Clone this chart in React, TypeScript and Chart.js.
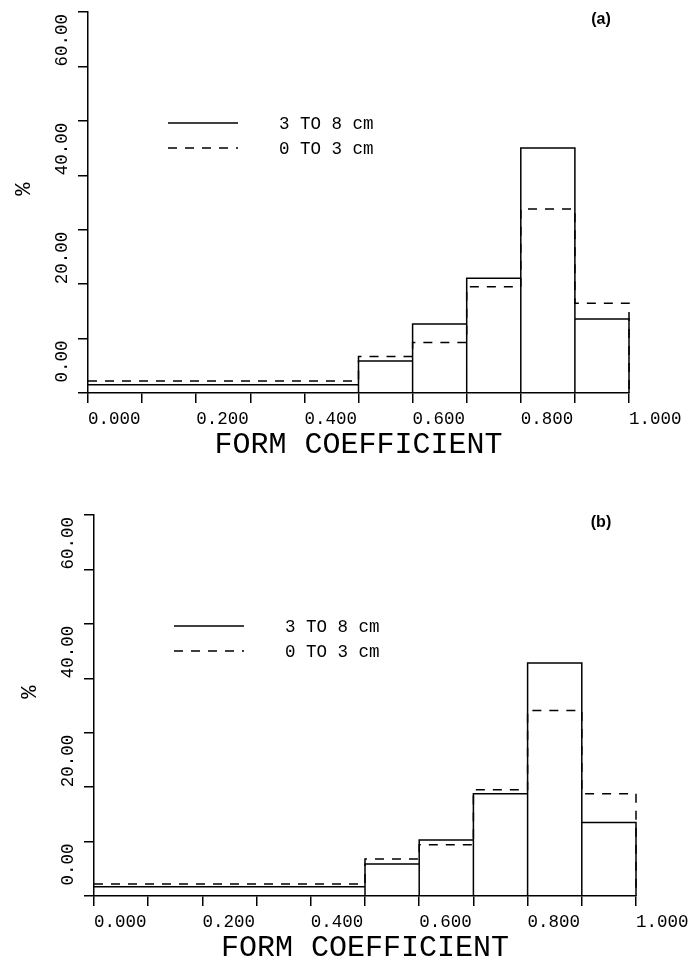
import React, { useEffect, useRef } from "react";
import { Chart, registerables } from "chart.js";

Chart.register(...registerables);

// ---- data ----
const binEdges = [0, 0.5, 0.6, 0.7, 0.8, 0.9, 1.0];
const seriesLabels = ["3 TO 8 cm", "0 TO 3 cm"];
const panelA_3to8 = [1.5, 5.9, 12.7, 21.1, 45.0, 13.6];
const panelA_0to3 = [2.2, 6.7, 9.3, 19.5, 33.8, 16.5];
const panelB_3to8 = [1.7, 5.9, 10.3, 18.8, 42.8, 13.5];
const panelB_0to3 = [2.2, 6.8, 9.4, 19.5, 34.1, 18.8];
const yLabelValues = [0, 20, 40, 60];
const panelTags = ["(a)", "(b)"];
const xTitle = "FORM COEFFICIENT";
const yTitle = "%";

const MONO = "'Liberation Mono', 'DejaVu Sans Mono', monospace";
const INK = "#000";
const CANVAS_W = 692;
const CANVAS_H = 484;

type Geo = { top: number; axisX: number; rightX: number; topY: number; bottomY: number };
const geoA: Geo = { top: 0, axisX: 88, rightX: 629, topY: 12, bottomY: 393 };
const geoB: Geo = { top: 485, axisX: 94, rightX: 636, topY: 30, bottomY: 411 };

// outline of histogram bars (each edge drawn down to the axis)
function outlinePoints(edges: number[], vals: number[]) {
  const pts: { x: number; y: number }[] = [{ x: edges[0], y: vals[0] }];
  for (let i = 0; i < vals.length; i++) {
    const x1 = edges[i + 1];
    pts.push({ x: x1, y: vals[i] });
    pts.push({ x: x1, y: 0 });
    if (i + 1 < vals.length) pts.push({ x: x1, y: vals[i + 1] });
  }
  return pts;
}

// step line (horizontal per bin), closing down at the last edge
function stepPoints(edges: number[], vals: number[]) {
  const pts: { x: number; y: number }[] = [];
  vals.forEach((v, i) => {
    pts.push({ x: edges[i], y: v });
    pts.push({ x: edges[i + 1], y: v });
  });
  pts.push({ x: edges[edges.length - 1], y: 0 });
  return pts;
}

const TICK_FONT = 17.5;
const TITLE_FONT = 30;
const DASH = [9, 8];

function Panel({ geo, solid, dashed, tag }: { geo: Geo; solid: number[]; dashed: number[]; tag: string }) {
  const ref = useRef<HTMLCanvasElement | null>(null);
  useEffect(() => {
    const canvas = ref.current;
    if (!canvas) return;
    const xScaleH = CANVAS_H - geo.bottomY;
    const tickLh = TICK_FONT * 1.2;
    const titleLh = TITLE_FONT * 1.2;

    const decor = {
      id: "decor",
      afterDraw(chart: any) {
        const { ctx, chartArea, scales } = chart;
        const y = scales.y;
        ctx.save();
        ctx.fillStyle = INK;
        ctx.strokeStyle = INK;
        // rotated y tick labels
        ctx.font = `${TICK_FONT}px ${MONO}`;
        yLabelValues.forEach((v) => {
          const py = y.getPixelForValue(v);
          ctx.save();
          ctx.translate(chartArea.left - 26, py);
          ctx.rotate(-Math.PI / 2);
          ctx.textAlign = "left";
          ctx.textBaseline = "middle";
          ctx.fillText(v.toFixed(2).padStart(5, " "), 0, 0);
          ctx.restore();
        });
        // y title
        ctx.save();
        ctx.font = `22px ${MONO}`;
        ctx.translate(chartArea.left - 64, chartArea.top + 0.465 * (chartArea.bottom - chartArea.top));
        ctx.rotate(-Math.PI / 2);
        ctx.textAlign = "center";
        ctx.textBaseline = "middle";
        ctx.fillText(yTitle, 0, 0);
        ctx.restore();
        // legend
        const ds = chart.data.datasets;
        const lx0 = chartArea.left + 80;
        const lx1 = chartArea.left + 150;
        const rows = [chartArea.top + 111, chartArea.top + 136];
        ds.forEach((d: any, i: number) => {
          ctx.save();
          ctx.lineWidth = d.borderWidth;
          ctx.setLineDash(d.borderDash || []);
          ctx.beginPath();
          ctx.moveTo(lx0, rows[i]);
          ctx.lineTo(lx1, rows[i]);
          ctx.stroke();
          ctx.restore();
          ctx.font = `${TICK_FONT}px ${MONO}`;
          ctx.textAlign = "left";
          ctx.textBaseline = "middle";
          ctx.fillText(d.label, chartArea.left + 191, rows[i] + 1);
        });
        // panel tag
        ctx.font = "bold 16px 'Liberation Sans', Arial, sans-serif";
        ctx.textAlign = "center";
        ctx.textBaseline = "middle";
        ctx.fillText(tag, 601, chartArea.top + 8);
        ctx.restore();
      },
    };

    const chart = new Chart(canvas, {
      type: "line",
      data: {
        datasets: [
          {
            label: seriesLabels[0],
            data: outlinePoints(binEdges, solid),
            borderColor: INK,
            borderWidth: 1.5,
            pointRadius: 0,
            tension: 0,
            fill: false,
            clip: false as any,
          },
          {
            label: seriesLabels[1],
            data: stepPoints(binEdges, dashed),
            borderColor: INK,
            borderWidth: 1.5,
            borderDash: DASH,
            pointRadius: 0,
            tension: 0,
            fill: false,
            clip: false as any,
          },
        ],
      },
      options: {
        animation: false,
        responsive: false,
        devicePixelRatio: 1,
        layout: {
          padding: { left: geo.axisX - 30, right: CANVAS_W - geo.rightX, top: geo.topY, bottom: 0 },
        },
        plugins: { legend: { display: false }, tooltip: { enabled: false }, title: { display: false } },
        scales: {
          x: {
            type: "linear",
            min: 0,
            max: 1,
            ticks: {
              stepSize: 0.1,
              autoSkip: false,
              maxRotation: 0,
              minRotation: 0,
              align: "start",
              padding: 26 - 10 - tickLh / 2,
              color: INK,
              font: { family: MONO, size: TICK_FONT },
              callback: (v: any, i: number) => (i % 2 === 0 ? Number(v).toFixed(3) : ""),
            },
            grid: { drawOnChartArea: false, drawTicks: true, tickLength: 10, color: INK, lineWidth: 1.5 },
            border: { display: true, color: INK, width: 1.5 },
            title: {
              display: true,
              text: xTitle,
              color: INK,
              font: { family: MONO, size: TITLE_FONT },
              padding: { top: 0, bottom: xScaleH - 52.5 - titleLh / 2 },
            },
            afterFit: (s: any) => {
              s.height = xScaleH;
              s.paddingLeft = 0;
              s.paddingRight = 0;
            },
          },
          y: {
            type: "linear",
            min: 0,
            max: 70,
            ticks: { stepSize: 10, display: false },
            grid: { drawOnChartArea: false, drawTicks: true, tickLength: 10, color: INK, lineWidth: 1.5 },
            border: { display: true, color: INK, width: 1.5 },
            afterFit: (s: any) => {
              s.width = 30;
              s.paddingTop = 0;
              s.paddingBottom = 0;
            },
          },
        },
      },
      plugins: [decor],
    } as any);
    return () => chart.destroy();
  }, [geo, solid, dashed, tag]);

  return (
    <canvas
      ref={ref}
      width={CANVAS_W}
      height={CANVAS_H}
      style={{ position: "absolute", left: 0, top: geo.top, width: CANVAS_W, height: CANVAS_H }}
    />
  );
}

export default function App() {
  return (
    <div style={{ position: "absolute", left: 0, top: 0, width: CANVAS_W, height: 969, background: "#fff" }}>
      <Panel geo={geoA} solid={panelA_3to8} dashed={panelA_0to3} tag={panelTags[0]} />
      <Panel geo={geoB} solid={panelB_3to8} dashed={panelB_0to3} tag={panelTags[1]} />
    </div>
  );
}
